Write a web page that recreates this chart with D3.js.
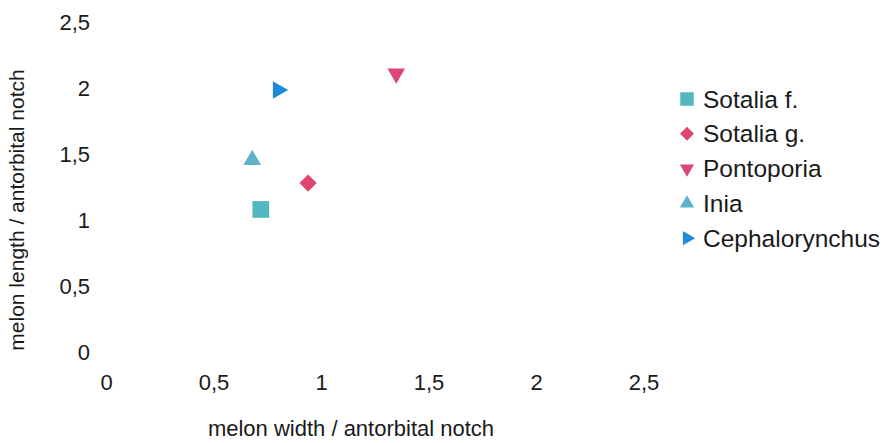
<!DOCTYPE html>
<html>
<head>
<meta charset="utf-8">
<script src="https://cdn.jsdelivr.net/npm/d3@7.9.0/dist/d3.min.js"></script>
<style>
  body { margin: 0; background: #fff; }
  svg { display: block; font-family: "Liberation Sans", Arial, sans-serif; }
  .tick text { fill: #1a1a1a; }
</style>
</head>
<body>
<svg width="889" height="443"></svg>
<script>
// data
const species = ['Sotalia f.', 'Sotalia g.', 'Pontoporia', 'Inia', 'Cephalorynchus'];
const melonWidth = [0.72, 0.94, 1.35, 0.68, 0.80];
const melonLength = [1.08, 1.28, 2.11, 1.455, 1.985];
const ticks = [0, 0.5, 1, 1.5, 2, 2.5];

// marker styles per species
const colors = ['#52b8bf', '#df456f', '#dc4677', '#5db2ca', '#1f8ad6'];
const shapes = [
  { type: d3.symbolSquare, rotate: 0, size: 280 },
  { type: d3.symbolSquare, rotate: 45, size: 150 },
  { type: d3.symbolTriangle, rotate: 180, size: 135 },
  { type: d3.symbolTriangle, rotate: 0, size: 135 },
  { type: d3.symbolTriangle, rotate: 90, size: 135 }
];

const svg = d3.select('svg');
const fmt = (d) => String(d).replace('.', ',');

let x = d3.scaleLinear().domain([0, 2.5]).range([106, 643.5]);
let y = d3.scaleLinear().domain([0, 2.5]).range([352, 22]);

// y axis (labels only)
let yAxis = svg.append('g')
  .attr('transform', `translate(${x(0)},0)`)
  .call(d3.axisLeft(y).tickValues(ticks).tickFormat(fmt).tickSize(0).tickPadding(16));
yAxis.select('.domain').remove();
yAxis.selectAll('text').attr('font-size', 22).attr('font-family', null);

// x axis (labels only)
let xAxis = svg.append('g')
  .attr('transform', `translate(0,${y(0)})`)
  .call(d3.axisBottom(x).tickValues(ticks).tickFormat(fmt).tickSize(0).tickPadding(22));
xAxis.select('.domain').remove();
xAxis.selectAll('text').attr('font-size', 22).attr('font-family', null);

// axis titles
svg.append('text')
  .attr('x', 351).attr('y', 436)
  .attr('text-anchor', 'middle')
  .attr('font-size', 22).attr('fill', '#1a1a1a')
  .text('melon width / antorbital notch');

svg.append('text')
  .attr('transform', 'translate(24,210) rotate(-90)')
  .attr('text-anchor', 'middle')
  .attr('font-size', 21).attr('fill', '#1a1a1a')
  .text('melon length / antorbital notch');

// points
species.forEach((name, i) => {
  svg.append('path')
    .attr('d', d3.symbol().type(shapes[i].type).size(shapes[i].size)())
    .attr('transform', `translate(${x(melonWidth[i])},${y(melonLength[i])}) rotate(${shapes[i].rotate})`)
    .attr('fill', colors[i]);
});

// legend
let legend = svg.append('g').attr('transform', 'translate(687,99)');
species.forEach((name, i) => {
  let row = legend.append('g').attr('transform', `translate(0,${i * 34.8})`);
  row.append('path')
    .attr('d', d3.symbol().type(shapes[i].type).size(shapes[i].size * 0.65)())
    .attr('transform', `rotate(${shapes[i].rotate})`)
    .attr('fill', colors[i]);
  row.append('text')
    .attr('x', 16).attr('dy', '0.35em')
    .attr('font-size', 24.5).attr('fill', '#1a1a1a')
    .text(name);
});
</script>
</body>
</html>
